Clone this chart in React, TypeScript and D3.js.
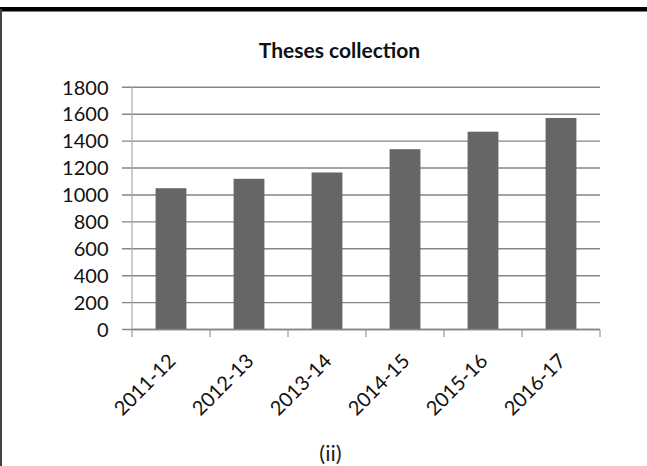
import React from "react";
import * as d3 from "d3";

const categories = ["2011-12", "2012-13", "2013-14", "2014-15", "2015-16", "2016-17"];
const values = [1050, 1120, 1167, 1340, 1470, 1572];
const yTicks = [0, 200, 400, 600, 800, 1000, 1200, 1400, 1600, 1800];
const title = "Theses collection";
const caption = "(ii)";

const W = 647;
const H = 466;
const plot = { left: 132, right: 600, top: 87.3, bottom: 329.5 };
const FONT = "Lato, 'Open Sans', sans-serif";

export default function App() {
  const x = d3.scaleBand<string>().domain(categories).range([plot.left, plot.right]).padding(0);
  const y = d3.scaleLinear().domain([0, 1800]).range([plot.bottom, plot.top]);
  const bw = x.bandwidth() * 0.395;
  const gridColor = "#858585";

  return (
    <svg
      width={W}
      height={H}
      viewBox={`0 0 ${W} ${H}`}
      style={{ position: "fixed", left: 0, top: 0, background: "#fff" }}
    >
      <rect x={0} y={0} width={W} height={H} fill="#fff" />
      {/* frame */}
      <line x1={0} x2={W} y1={9.3} y2={9.3} stroke="#000" strokeWidth={4.5} />
      <line x1={1} x2={1} y1={9} y2={H} stroke="#444" strokeWidth={2} />

      <text x={339.5} y={57.5} textAnchor="middle" fontFamily={FONT} fontWeight="bold" fontSize={21} fill="#111">
        {title}
      </text>

      {/* gridlines + y ticks */}
      {yTicks.map((t) => (
        <g key={t}>
          <line x1={122} x2={plot.right} y1={y(t)} y2={y(t)} stroke={gridColor} strokeWidth={1.4} />
          <text
            x={108.5}
            y={y(t)}
            dy="0.36em"
            textAnchor="end"
            fontFamily={FONT}
            fontSize={20}
            fill="#111"
          >
            {t}
          </text>
        </g>
      ))}
      {/* y axis */}
      <line x1={plot.left} x2={plot.left} y1={plot.top} y2={plot.bottom} stroke="#aaa" strokeWidth={1.2} />

      {/* bars */}
      {categories.map((c, i) => (
        <rect
          key={c}
          x={(x(c) as number) + x.bandwidth() / 2 - bw / 2}
          y={y(values[i])}
          width={bw}
          height={y(0) - y(values[i])}
          fill="#666666"
        />
      ))}

      {/* x axis */}
      <line x1={plot.left} x2={plot.right} y1={plot.bottom} y2={plot.bottom} stroke={gridColor} strokeWidth={1.4} />
      {[...categories.map((c) => x(c) as number), plot.right].map((px, i) => (
        <line key={i} x1={px} x2={px} y1={plot.bottom} y2={plot.bottom + 7.5} stroke="#999" strokeWidth={1.2} />
      ))}
      {categories.map((c) => {
        const cx = (x(c) as number) + x.bandwidth() / 2 - 4;
        const cy = plot.bottom + 23;
        return (
          <text
            key={c}
            transform={`translate(${cx},${cy}) rotate(-45)`}
            textAnchor="end"
            dy="0.7em"
            fontFamily={FONT}
            fontSize={20}
            fill="#111"
          >
            {c}
          </text>
        );
      })}

      <text x={330.5} y={461} textAnchor="middle" fontFamily={FONT} fontSize={22} fill="#222">
        {caption}
      </text>
    </svg>
  );
}
